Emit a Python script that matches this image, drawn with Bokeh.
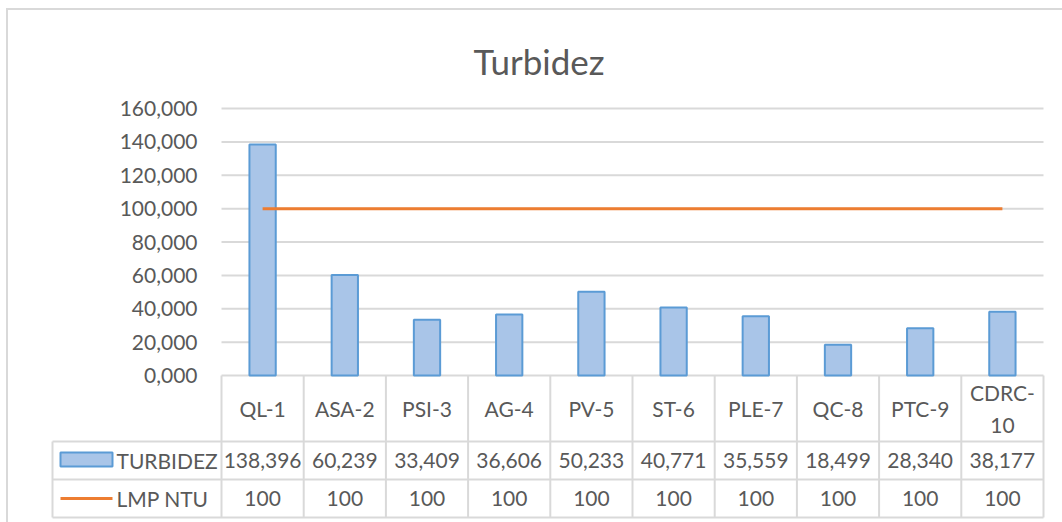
from bokeh.plotting import figure
from bokeh.layouts import column
from bokeh.models import Range1d, FixedTicker, CustomJSTickFormatter, ColumnDataSource, LinearAxis
from bokeh.core.properties import value
from bokeh.embed import file_html
from bokeh.resources import INLINE

# ---------------- data ----------------
chart_title = "Turbidez"
categories = ["QL-1", "ASA-2", "PSI-3", "AG-4", "PV-5", "ST-6", "PLE-7", "QC-8", "PTC-9", "CDRC-10"]
turbidez = [138.396, 60.239, 33.409, 36.606, 50.233, 40.771, 35.559, 18.499, 28.340, 38.177]
lmp_ntu = [100, 100, 100, 100, 100, 100, 100, 100, 100, 100]
series_names = ["TURBIDEZ", "LMP NTU"]
y_ticks = [0, 20, 40, 60, 80, 100, 120, 140, 160]

# ---------------- style ----------------
FONT = "Lato"
TXT = "#595959"
GRID = "#d9d9d9"
BAR_FILL = "#a9c5e8"
BAR_LINE = "#5b9bd5"
ORANGE = "#ed7d31"

n = len(categories)
xs = [i + 0.5 for i in range(n)]

# layout constants (page pixels)
OX, OY = 8, 10             # figure origin on the page
X0_PX, COL_PX = 221, 82.2  # left edge of the category columns, column width
Y0_PX, PPU = 375, 267 / 160  # baseline pixel, pixels per y unit


def xd(px):
    return (px - X0_PX) / COL_PX


def yd(py):
    return (Y0_PX - py) / PPU


def fmt(v):
    if float(v).is_integer():
        return str(int(v))
    return f"{v:.3f}".replace(".", ",")


def wrap(label):
    return label.replace("-", "-\n") if len(label) > 6 else label


FRAME_L, FRAME_R, FRAME_T, FRAME_B = 50, 1045, 93, 519
W, H = 1054, 512

p = figure(width=W, height=H,
           x_range=Range1d(xd(FRAME_L), xd(FRAME_R)),
           y_range=Range1d(yd(FRAME_B), yd(FRAME_T)),
           output_backend="svg", toolbar_location=None,
           min_border_left=FRAME_L - OX, min_border_right=W - (FRAME_R - OX),
           min_border_top=FRAME_T - OY, min_border_bottom=H - (FRAME_B - OY),
           x_axis_location=None, y_axis_location=None, title=chart_title)
p.outline_line_color = None
p.grid.visible = False
p.title.align = "left"
p.title.vertical_align = "top"
p.title.offset = 423
p.title.standoff = 20
p.title.text_font = FONT
p.title.text_font_size = "35px"
p.title.text_font_style = "normal"
p.title.text_color = TXT

# gridlines over the category columns only
p.segment(x0=[0] * len(y_ticks), y0=y_ticks, x1=[n] * len(y_ticks), y1=y_ticks,
          line_color=GRID, line_width=2)

yax = LinearAxis(fixed_location=0)
yax.ticker = FixedTicker(ticks=y_ticks)
yax.formatter = CustomJSTickFormatter(code="return tick.toFixed(3).replace('.', ',');")
yax.axis_line_color = None
yax.major_tick_line_color = None
yax.minor_tick_line_color = None
yax.major_label_standoff = 18
yax.major_label_text_font = FONT
yax.major_label_text_font_size = "21px"
yax.major_label_text_color = TXT
p.add_layout(yax, "left")

src = ColumnDataSource(dict(x=xs, top=turbidez, lmp=lmp_ntu))
p.vbar(x="x", top="top", bottom=0, width=0.32, source=src,
       fill_color=BAR_FILL, line_color=BAR_LINE, line_width=2)
p.line(x="x", y="lmp", source=src, line_color=ORANGE, line_width=3)

# ---------------- data table ----------------
row_cat, row_a, row_b, row_end = 375, 441, 479, 517
lx0 = xd(52)
cx = list(range(n + 1))
p.segment(x0=cx, y0=[0] * len(cx), x1=cx, y1=[yd(row_end)] * len(cx),
          line_color=GRID, line_width=2)
p.segment(x0=[lx0], y0=[yd(row_a)], x1=[lx0], y1=[yd(row_end)],
          line_color=GRID, line_width=2)
hy = [yd(row_a), yd(row_b), yd(row_end)]
p.segment(x0=[lx0] * 3, y0=hy, x1=[n] * 3, y1=hy, line_color=GRID, line_width=2)

TS = "21px"
p.text(x=xs, y=[yd((row_cat + row_a) / 2)] * n, text=[wrap(c) for c in categories],
       text_align="center", text_baseline="middle", text_font=value(FONT),
       text_font_size=TS, text_color=TXT, text_line_height=1.3)
ya = yd((row_a + row_b) / 2)
yb = yd((row_b + row_end) / 2)
p.text(x=xs, y=[ya] * n, text=[fmt(v) for v in turbidez],
       text_align="center", text_baseline="middle", text_font=value(FONT),
       text_font_size=TS, text_color=TXT)
p.text(x=xs, y=[yb] * n, text=[fmt(v) for v in lmp_ntu],
       text_align="center", text_baseline="middle", text_font=value(FONT),
       text_font_size=TS, text_color=TXT)

sw0, sw1 = xd(60), xd(112)
p.quad(left=[sw0], right=[sw1], bottom=[yd(466)], top=[yd(452)],
       fill_color=BAR_FILL, line_color=BAR_LINE, line_width=2)
p.segment(x0=[sw0], y0=[yb], x1=[sw1], y1=[yb], line_color=ORANGE, line_width=3)
p.text(x=[xd(116)] * 2, y=[ya, yb], text=series_names,
       text_align="left", text_baseline="middle", text_font=value(FONT),
       text_font_size=TS, text_color=TXT)

layout = column(p, styles={"margin-left": "6px", "margin-top": "8px",
                           "border-left": "2px solid #d9d9d9",
                           "border-top": "2px solid #d9d9d9"})

open("out.html", "w").write(file_html(layout, INLINE))
